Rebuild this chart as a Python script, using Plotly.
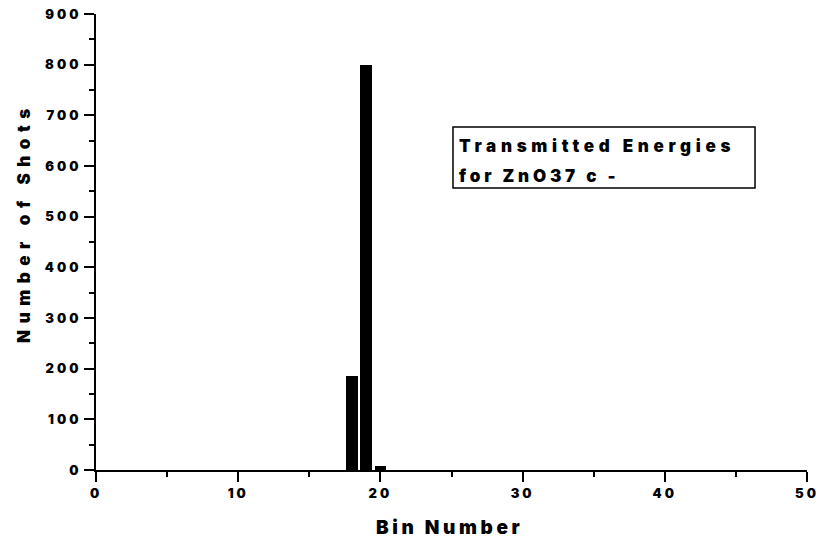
import plotly.graph_objects as go

# Histogram of transmitted energies: shot counts per bin
bins = list(range(0, 51))
counts = [0] * 51
counts[18] = 185
counts[19] = 800
counts[20] = 8

x_ticks = [0, 10, 20, 30, 40, 50]
y_ticks = [0, 100, 200, 300, 400, 500, 600, 700, 800, 900]

x_title = "Bin Number"
y_title = "Number of Shots"
note_lines = ["Transmitted Energies", "for ZnO37 c -"]

FONT = "Inter, DejaVu Sans, Liberation Sans, Arial, sans-serif"
HEAVY = 900


def spaced(text, px):
    """Wrap text in a span with extra letter spacing (wide heavy lettering)."""
    return f'<span style="letter-spacing:{px}px">{text}</span>'


fig = go.Figure()
fig.add_trace(go.Bar(
    x=bins, y=counts, width=0.8,
    marker=dict(color="black", line=dict(width=0)),
    showlegend=False,
))

axis_common = dict(
    showline=True, linecolor="black", linewidth=2,
    ticks="outside", tickcolor="black", tickwidth=2, ticklen=10,
    showgrid=False, zeroline=False, automargin=False,
    tickfont=dict(family=FONT, size=13, color="black", weight=HEAVY),
)

fig.update_xaxes(
    range=[0, 50], tickvals=x_ticks,
    ticktext=[spaced(str(v), 3) for v in x_ticks],
    ticklabeloverflow="allow",
    minor=dict(ticks="outside", dtick=5, ticklen=5, tickcolor="black", tickwidth=2),
    **axis_common,
)
fig.update_yaxes(
    range=[0, 900], tickvals=y_ticks,
    ticktext=[spaced(str(v), 3) for v in y_ticks],
    minor=dict(ticks="outside", dtick=50, ticklen=5, tickcolor="black", tickwidth=2),
    **axis_common,
)

# Axis titles
fig.add_annotation(
    x=0.4965, y=-0.127, xref="paper", yref="paper",
    xanchor="center", yanchor="middle", showarrow=False,
    text=spaced(x_title, 3.6),
    font=dict(family=FONT, size=19, color="black", weight=HEAVY),
)
fig.add_annotation(
    x=-0.1013, y=0.544, xref="paper", yref="paper",
    xanchor="center", yanchor="middle", showarrow=False, textangle=-90,
    text=spaced(y_title, 6.5),
    font=dict(family=FONT, size=17, color="black", weight=HEAVY),
)

# Boxed note
fig.add_shape(
    type="rect", xref="paper", yref="paper",
    x0=0.5021, x1=0.9269, y0=0.6184, y1=0.7522,
    line=dict(color="black", width=1.5), fillcolor="white", layer="above",
)
for line, ypos, track in zip(note_lines, [0.7105, 0.6447], [4.7, 3.8]):
    fig.add_annotation(
        x=0.5077, y=ypos, xref="paper", yref="paper",
        xanchor="left", yanchor="middle", showarrow=False,
        text=spaced(line, track),
        font=dict(family=FONT, size=17, color="black", weight=HEAVY),
    )

fig.update_layout(
    width=820, height=545,
    margin=dict(l=96, r=13, t=14, b=75),
    paper_bgcolor="white", plot_bgcolor="white",
    bargap=0,
)

fig.write_html("out.html")
